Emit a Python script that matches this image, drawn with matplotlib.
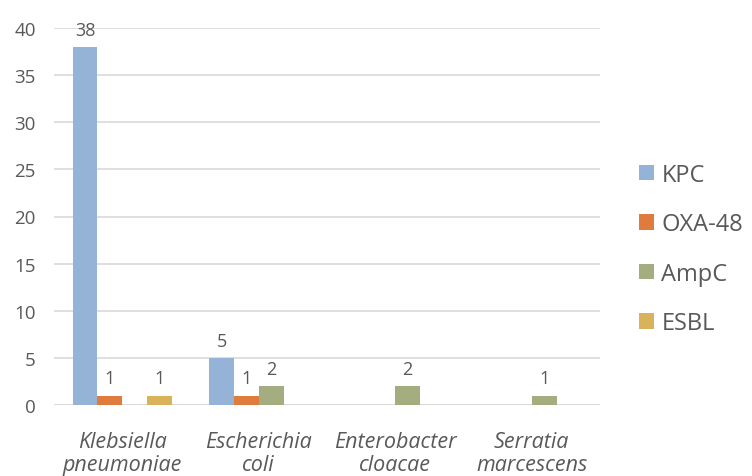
import matplotlib
matplotlib.use("Agg")
import matplotlib.pyplot as plt
import numpy as np

categories = ["Klebsiella\npneumoniae", "Escherichia\ncoli", "Enterobacter\ncloacae", "Serratia\nmarcescens"]
series_names = ["KPC", "OXA-48", "AmpC", "ESBL"]
kpc = [38, 5, 0, 0]
oxa48 = [1, 1, 0, 0]
ampc = [0, 2, 2, 1]
esbl = [1, 0, 0, 0]
yticks = [0, 5, 10, 15, 20, 25, 30, 35, 40]

colors = ["#95B3D7", "#E07B3E", "#A3AD80", "#D9B35B"]
text_color = "#595959"

plt.rcParams['font.family'] = ['Open Sans', 'DejaVu Sans']

fig = plt.figure(figsize=(7.52, 4.77), dpi=100)
ax = fig.add_axes([54/752, 1-406/477, (600-54)/752, (406-29)/477])

x = np.arange(len(categories))
w = 0.182
data = [kpc, oxa48, ampc, esbl]
for i, (vals, name, c) in enumerate(zip(data, series_names, colors)):
    pos = x + (i - 1.5) * w
    bars = ax.bar(pos, vals, width=w, color=c, label=name, zorder=3)
    for b, v in zip(bars, vals):
        if v > 0:
            ax.annotate(str(v), (b.get_x() + b.get_width()/2, v), xytext=(0, 6),
                        textcoords="offset points", ha="center", va="bottom",
                        fontsize=13, color=text_color)

ax.set_xlim(-0.5, len(categories) - 0.5)
ax.set_ylim(0, 40)
ax.set_yticks(yticks)
ax.yaxis.grid(True, color="#D9D9D9", linewidth=1.2, zorder=0)
for s in ax.spines.values():
    s.set_visible(False)
ax.axhline(0, color="#D9D9D9", linewidth=1.2, zorder=2)
ax.tick_params(axis="both", length=0, colors=text_color, labelsize=13.5)
ax.tick_params(axis="y", pad=13)
ax.tick_params(axis="x", pad=19)
ax.set_xticks(x)
ax.set_xticklabels(categories, fontsize=15.5, style="italic", color=text_color, linespacing=1.1)

leg = fig.legend(loc="center left", bbox_to_anchor=(639/752, 1-250/477), frameon=False,
                 fontsize=17, handlelength=0.65, handleheight=0.65, handletextpad=0.3,
                 labelspacing=1.08, labelcolor=text_color, borderaxespad=0, borderpad=0)

fig.savefig("out.png", dpi=100)
